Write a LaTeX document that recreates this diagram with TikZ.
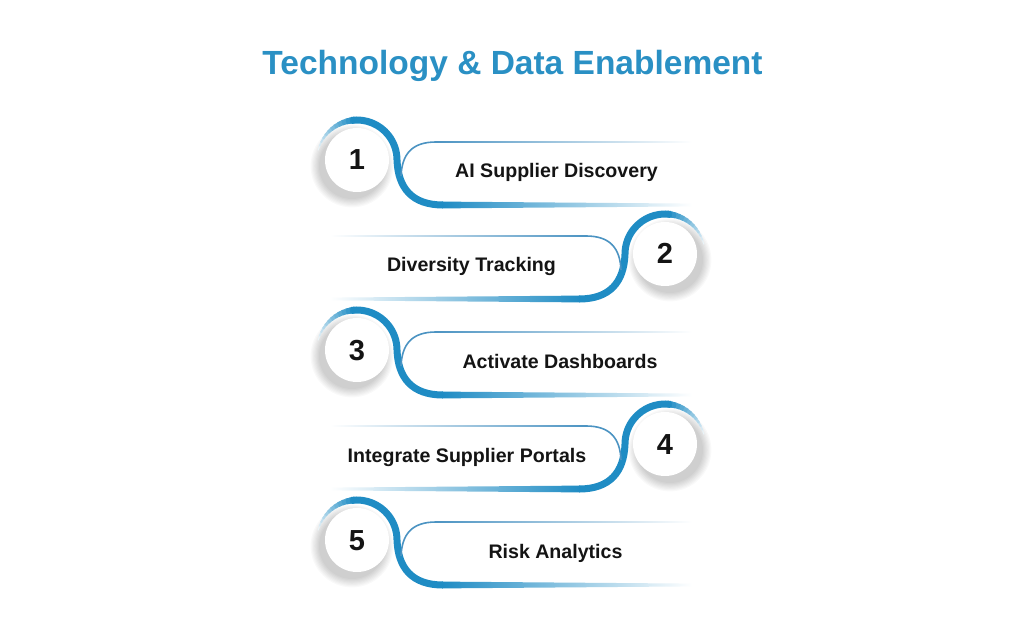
\documentclass[tikz,border=0pt]{standalone}
\usepackage{fontspec}
\setmainfont{Liberation Sans}
\definecolor{blueC}{HTML}{1F8CC4}
\definecolor{titleC}{HTML}{2A90C4}
\definecolor{textC}{HTML}{141414}
\definecolor{lineC}{HTML}{4B93C2}
\tikzset{
  titletext/.style={anchor=base, text=titleC, font=\fontsize{33.5}{40}\selectfont\bfseries, inner sep=0pt},
  labeltext/.style={anchor=base, text=textC, font=\fontsize{19.6}{24}\selectfont\bfseries, inner sep=0pt},
  numtext/.style={anchor=base, text=textC, font=\fontsize{29}{36}\selectfont\bfseries, inner sep=0pt},
  fadeL/.style={left color=#1, middle color=#1!85!white, right color=white},
  fadeR/.style={right color=#1, middle color=#1!85!white, left color=white},
  thinL/.style={left color=#1, middle color=#1!45!white, right color=white},
  thinR/.style={right color=#1, middle color=#1!45!white, left color=white},
}
% circle, shadow, thick arc and the left end of the band (mirrored by xscale)
\newcommand\rowart{%
  \foreach \k in {0,...,7}{%
    \pgfmathsetmacro\myR{33+\k*1.2}
    \fill[black,opacity=0.022] (-5,-6) circle[radius=\myR];}
  \fill[white] (0,0) circle[radius=32];
  \foreach \i in {0,...,11}{%
    \pgfmathsetmacro\myA{166-\i*6}
    \pgfmathtruncatemacro\myC{10+\i*8}
    \pgfmathsetmacro\myW{1.0+\i*0.5}
    \draw[blueC!\myC!white, line width=\myW pt] (\myA:40) arc[start angle=\myA, end angle=\myA-6.6, radius=40];
  }
  \draw[blueC, line width=7pt] (98:40) arc[start angle=98, end angle=0, radius=40] .. controls (41,-28) and (55,-45) .. (86,-45);
  \draw[lineC, line width=1.6pt] (44,-16) .. controls (45,6) and (55,18) .. (79,18);
}
% fading straight parts, drawn with a shift only
\newcommand\fadeleft{%
  \shade[fadeL=blueC] (85,-41.6) -- (335,-43.6) -- (335,-46.4) -- (85,-48.4) -- cycle;
  \shade[thinL=lineC] (78,17.2) rectangle (335,18.8);
}
\newcommand\faderight{%
  \shade[fadeR=blueC] (-85,-41.6) -- (-335,-43.6) -- (-335,-46.4) -- (-85,-48.4) -- cycle;
  \shade[thinR=lineC] (-78,17.2) rectangle (-335,18.8);
}
\begin{document}
\begin{tikzpicture}[x=1pt,y=1pt]
\useasboundingbox (0,0) rectangle (1024,627);
\fill[white] (0,0) rectangle (1024,627);
\node[titletext] (title) at (512.5,552) {Technology \& Data Enablement};

\begin{scope}[shift={(357,467)}]\rowart\fadeleft\end{scope}
\begin{scope}[shift={(665,373)},xscale=-1]\rowart\end{scope}
\begin{scope}[shift={(665,373)}]\faderight\end{scope}
\begin{scope}[shift={(357,277)}]\rowart\fadeleft\end{scope}
\begin{scope}[shift={(665,183)},xscale=-1]\rowart\end{scope}
\begin{scope}[shift={(665,183)}]\faderight\end{scope}
\begin{scope}[shift={(357,87)}]\rowart\fadeleft\end{scope}

\node[numtext] (n1) at (357,457) {1};
\node[numtext] (n2) at (665,363) {2};
\node[numtext] (n3) at (357,267) {3};
\node[numtext] (n4) at (665,173) {4};
\node[numtext] (n5) at (357,77) {5};

\node[labeltext] (l1) at (556.5,449) {AI Supplier Discovery};
\node[labeltext] (l2) at (471.5,355) {Diversity Tracking};
\node[labeltext] (l3) at (560,259) {Activate Dashboards};
\node[labeltext] (l4) at (467,165) {Integrate Supplier Portals};
\node[labeltext] (l5) at (555.5,69) {Risk Analytics};
\end{tikzpicture}
\end{document}
